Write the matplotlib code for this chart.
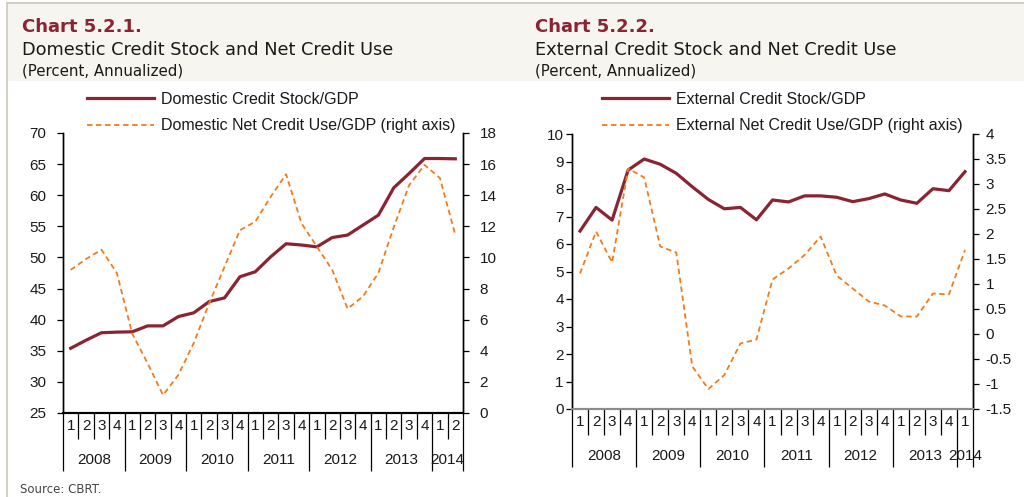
import numpy as np
import matplotlib
matplotlib.use('Agg')
import matplotlib.pyplot as plt
import matplotlib.patches as mpatches
from matplotlib.lines import Line2D

# Data
dom_quarters = ['1', '2', '3', '4'] * 6 + ['1', '2']
dom_years = ['2008', '2009', '2010', '2011', '2012', '2013', '2014']
dom_stock = [35.4, 36.7, 37.9, 38.0, 38.05, 39.0, 39.0, 40.5, 41.1, 42.9, 43.5, 46.9, 47.7,
             50.1, 52.2, 52.0, 51.7, 53.2, 53.6, 55.2, 56.8, 61.2, 63.5, 65.9, 65.9, 65.85]
dom_net = [9.2, 9.9, 10.5, 9.0, 5.1, 3.2, 1.15, 2.45, 4.5, 7.05, 9.4, 11.75, 12.3,
           13.9, 15.35, 12.2, 10.7, 9.2, 6.7, 7.5, 9.0, 11.95, 14.65, 15.95, 15.1, 11.45]

ext_quarters = ['1', '2', '3', '4'] * 6 + ['1']
ext_years = ['2008', '2009', '2010', '2011', '2012', '2013', '2014']
ext_stock = [6.47, 7.33, 6.87, 8.69, 9.09, 8.9, 8.57, 8.08, 7.62, 7.28, 7.33, 6.88, 7.6,
             7.53, 7.75, 7.75, 7.7, 7.54, 7.65, 7.82, 7.6, 7.48, 8.01, 7.94, 8.63]
ext_net = [1.21, 2.05, 1.43, 3.31, 3.13, 1.75, 1.63, -0.65, -1.1, -0.82, -0.19, -0.11, 1.09,
           1.31, 1.58, 1.95, 1.17, 0.91, 0.65, 0.57, 0.35, 0.35, 0.81, 0.79, 1.68]

MAROON = '#8a2332'
ORANGE = '#ee7d1e'
HEAD_BG = '#f6f5f0'
BORDER = '#cdc8be'
TXT = '#1a1a1a'
CHART_FONT = 'Liberation Sans'
HEAD_FONT = 'DejaVu Sans'

W, H = 1024, 497
fig = plt.figure(figsize=(W / 100, H / 100), dpi=100, facecolor='white')


def fx(px):
    return px / W


def fy(py):
    return 1 - py / H


# header band and frame
fig.patches.append(mpatches.Rectangle((fx(8), fy(81)), 1 - fx(8), fy(3) - fy(81),
                                      transform=fig.transFigure, facecolor=HEAD_BG,
                                      edgecolor='none', zorder=0))
fig.add_artist(Line2D([fx(7), 1], [fy(3), fy(3)], color=BORDER, lw=1.2))
fig.add_artist(Line2D([fx(7), fx(7)], [fy(3), 0], color=BORDER, lw=1.2))


def header(x, num, title):
    fig.text(fx(x), fy(27), num, color=MAROON, fontsize=13, fontweight='bold',
             family=HEAD_FONT, va='center', ha='left')
    fig.text(fx(x), fy(50), title, color=TXT, fontsize=12.8, family=HEAD_FONT,
             va='center', ha='left')
    fig.text(fx(x), fy(71), '(Percent, Annualized)', color=TXT, fontsize=10.8,
             family=HEAD_FONT, va='center', ha='left')


header(22, 'Chart 5.2.1.', 'Domestic Credit Stock and Net Credit Use')
header(535, 'Chart 5.2.2.', 'External Credit Stock and Net Credit Use')
fig.text(fx(20), fy(496), 'Source: CBRT.', color='#444444', fontsize=8.5,
         family=HEAD_FONT, va='bottom', ha='left')


def panel(box, stock, net, quarters, years, ylim, yticks, y2lim, y2ticks, y2fmt,
          labels, bottom_color, lpad, rpad, legend_x):
    x0, y0, x1, y1 = box
    ax = fig.add_axes([fx(x0), fy(y1), fx(x1) - fx(x0), fy(y0) - fy(y1)])
    ax2 = ax.twinx()
    n = len(stock)
    xs = np.arange(n) + 0.5

    l1, = ax.plot(xs, stock, color=MAROON, lw=2.3, solid_joinstyle='round', zorder=3)
    l2, = ax2.plot(xs, net, color=ORANGE, lw=1.3, dashes=(3, 2), zorder=2)

    ax.set_xlim(0, n)
    ax.set_ylim(*ylim)
    ax.set_yticks(yticks)
    ax2.set_ylim(*y2lim)
    ax2.set_yticks(y2ticks)
    ax2.set_yticklabels([y2fmt(v) for v in y2ticks])

    for a in (ax, ax2):
        a.set_facecolor('none')
        a.spines['top'].set_visible(False)
        for s in ('left', 'right'):
            a.spines[s].set_color('black')
            a.spines[s].set_linewidth(1.0)
        a.spines['bottom'].set_color(bottom_color)
        a.spines['bottom'].set_linewidth(1.5)
    ax.tick_params(axis='y', direction='out', length=4, width=0.9, pad=lpad,
                   labelsize=11, labelcolor=TXT)
    ax2.tick_params(axis='y', direction='out', length=4, width=0.9, pad=rpad,
                    labelsize=11, labelcolor=TXT)
    for t in ax.get_yticklabels() + ax2.get_yticklabels():
        t.set_family(CHART_FONT)

    # quarter separators (minor) and year separators (major)
    year_edges = list(range(0, n, 4)) + [n]
    ax.set_xticks(year_edges)
    ax.set_xticklabels([])
    ax.set_xticks(np.arange(n + 1), minor=True)
    ax.tick_params(axis='x', which='major', direction='out', length=42, width=0.9,
                   color='black')
    ax.tick_params(axis='x', which='minor', direction='out', length=19, width=0.9,
                   color='black')
    for x, q in zip(xs, quarters):
        ax.annotate(q, xy=(x, 0), xycoords=('data', 'axes fraction'), xytext=(0, -9),
                    textcoords='offset points', ha='center', va='center', fontsize=11,
                    family=CHART_FONT, color=TXT)
    for i, yr in enumerate(years):
        a, b = year_edges[i], year_edges[i + 1]
        ax.annotate(yr, xy=((a + b) / 2, 0), xycoords=('data', 'axes fraction'),
                    xytext=(0, -34), textcoords='offset points', ha='center', va='center',
                    fontsize=11, family=CHART_FONT, color=TXT)

    lx, ly = legend_x
    leg = fig.legend([l1, l2], labels, loc='upper left',
                     bbox_to_anchor=(fx(lx), fy(ly)), frameon=False,
                     prop={'family': CHART_FONT, 'size': 11.5}, handlelength=4.2,
                     handletextpad=0.45, labelspacing=0.7, borderaxespad=0,
                     borderpad=0)
    for t in leg.get_texts():
        t.set_color(TXT)
    return ax, ax2


panel((63, 133, 463, 413), dom_stock, dom_net, dom_quarters, dom_years,
      (25, 70), np.arange(25, 71, 5), (0, 18), np.arange(0, 19, 2), lambda v: f'{v:g}',
      ['Domestic Credit Stock/GDP', 'Domestic Net Credit Use/GDP (right axis)'],
      'black', 8, 8, (87, 92))

panel((572, 134, 973, 409), ext_stock, ext_net, ext_quarters, ext_years,
      (0, 10), np.arange(0, 11, 1), (-1.5, 4), np.arange(-1.5, 4.01, 0.5),
      lambda v: f'{v:g}',
      ['External Credit Stock/GDP', 'External Net Credit Use/GDP (right axis)'],
      '#8c8c8c', 2, 5, (602, 92))

fig.savefig('out.png', dpi=100, facecolor='white')
